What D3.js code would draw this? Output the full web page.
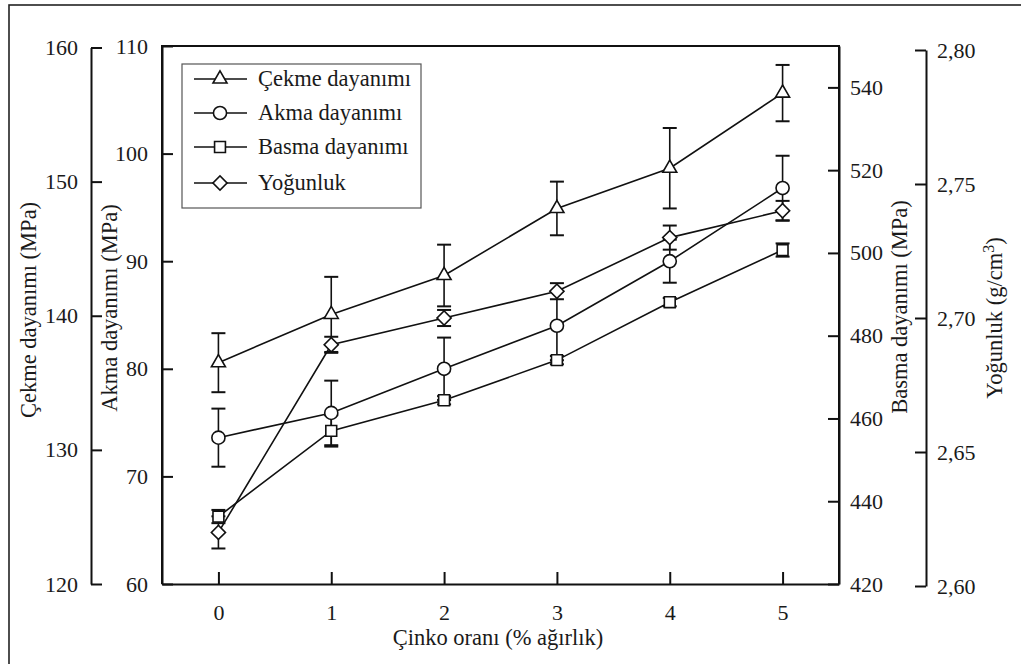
<!DOCTYPE html>
<html>
<head>
<meta charset="utf-8">
<script src="https://cdn.jsdelivr.net/npm/d3@7"></script>
<style>
  html, body { margin: 0; padding: 0; background: #fff; }
  svg { display: block; }
  text { font-family: "Liberation Serif", "Times New Roman", serif; fill: #1a1a1a; }
</style>
</head>
<body>
<script>
// zinc content (% weight)
const zinc = [0, 1, 2, 3, 4, 5];

const cekme = [136.5, 140.1, 143.0, 148.0, 151.0, 156.6];
const cekmeErr = [2.2, 2.8, 2.3, 2.0, 3.0, 2.1];

const akma = [73.6, 75.9, 80.0, 84.0, 90.0, 96.8];
const akmaErr = [2.7, 3.0, 2.9, 3.2, 2.0, 3.0];

const basma = [436.3, 457.0, 464.4, 474.1, 488.1, 500.7];
const basmaErr = [1.6, 3.8, 1.0, 1.0, 1.0, 1.6];

const yogunluk = [2.620, 2.690, 2.700, 2.710, 2.730, 2.740];
const yogunlukErr = [0.006, 0.003, 0.003, 0.003, 0.0045, 0.0037];

const legendNames = ["Çekme dayanımı", "Akma dayanımı", "Basma dayanımı", "Yoğunluk"];

const width = 1021, height = 664;
const plot = { left: 162, right: 839, top: 46, bottom: 584 };
const fontSize = 22;
const serif = '"Liberation Serif", "Times New Roman", serif';

const svg = d3.select("body").append("svg")
    .attr("width", width)
    .attr("height", height)
    .attr("font-family", serif);

// outer border (cut off at right / bottom like the scan)
svg.append("rect")
    .attr("x", 9).attr("y", 5)
    .attr("width", 1030).attr("height", 680)
    .attr("fill", "none")
    .attr("stroke", "#222")
    .attr("stroke-width", 1.6);

const x = d3.scaleLinear().domain([-0.5, 5.5]).range([plot.left, plot.right]);
const yCekme = d3.scaleLinear().domain([120, 160]).range([plot.bottom, 47.5]);
const yAkma = d3.scaleLinear().domain([60, 110]).range([plot.bottom, plot.top]);
const yBasma = d3.scaleLinear().domain([420, 550]).range([plot.bottom, plot.top]);
const yYog = d3.scaleLinear().domain([2.60, 2.80]).range([586, 50]);

const styleAxis = (g) => {
    g.attr("font-family", serif).attr("font-size", fontSize);
    g.selectAll("path.domain").attr("stroke", "#111").attr("stroke-width", 2);
    g.selectAll(".tick line").attr("stroke", "#111").attr("stroke-width", 2);
    g.selectAll(".tick text")
        .style("font-family", serif)
        .style("font-size", fontSize + "px")
        .attr("fill", "#1a1a1a");
};

// frame
svg.append("path")
    .attr("d", `M${plot.left},${plot.bottom}V${plot.top}H${plot.right}V${plot.bottom}`)
    .attr("fill", "none")
    .attr("stroke", "#111")
    .attr("stroke-width", 2);

// x axis
svg.append("g")
    .attr("transform", `translate(0,${plot.bottom})`)
    .call(d3.axisBottom(x).tickValues(zinc).tickFormat(d3.format("d"))
        .tickSizeInner(-12).tickSizeOuter(0).tickPadding(20))
    .call(styleAxis);

// Çekme axis (outer left)
svg.append("g")
    .attr("transform", "translate(91,0)")
    .call(d3.axisLeft(yCekme).tickValues([120, 130, 140, 150, 160])
        .tickSizeInner(-11).tickSizeOuter(0).tickPadding(13))
    .call(styleAxis);

// Akma axis (on frame)
svg.append("g")
    .attr("transform", `translate(${plot.left},0)`)
    .call(d3.axisLeft(yAkma).tickValues([60, 70, 80, 90, 100, 110])
        .tickSizeInner(-11).tickSizeOuter(0).tickPadding(14))
    .call(styleAxis);

// Basma axis (on frame, right)
svg.append("g")
    .attr("transform", `translate(${plot.right},0)`)
    .call(d3.axisRight(yBasma).tickValues([420, 440, 460, 480, 500, 520, 540])
        .tickSizeInner(-11).tickSizeOuter(0).tickPadding(11))
    .call(styleAxis);

// Yoğunluk axis (outer right)
svg.append("g")
    .attr("transform", "translate(926,0)")
    .call(d3.axisRight(yYog).tickValues([2.60, 2.65, 2.70, 2.75, 2.80])
        .tickFormat(d => d3.format(".2f")(d).replace(".", ","))
        .tickSizeInner(-11).tickSizeOuter(0).tickPadding(11))
    .call(styleAxis);

// axis titles
const title = (tx, ty, rot, txt) => svg.append("text")
    .attr("transform", `translate(${tx},${ty}) rotate(${rot})`)
    .attr("text-anchor", "middle")
    .style("font-family", serif)
    .style("font-size", "22.5px")
    .text(txt);

title(498, 645, 0, "Çinko oranı (% ağırlık)");
title(36, 310, -90, "Çekme dayanımı (MPa)");
title(117, 308, -90, "Akma dayanımı (MPa)");
title(907, 307, -90, "Basma dayanımı (MPa)");
const yt = title(1002, 318, -90, "Yoğunluk (g/cm");
yt.append("tspan").attr("baseline-shift", "super").style("font-size", "16px").text("3");
yt.append("tspan").text(")");

// marker shapes
const markers = [
    d3.symbol().type(d3.symbolTriangle).size(85)(),
    d3.symbol().type(d3.symbolCircle).size(135)(),
    d3.symbol().type(d3.symbolSquare).size(118)(),
    d3.symbol().type(d3.symbolSquare).size(100)()
];
const markerRot = [0, 0, 0, 45];

const series = [
    { vals: cekme, err: cekmeErr, y: yCekme },
    { vals: akma, err: akmaErr, y: yAkma },
    { vals: basma, err: basmaErr, y: yBasma },
    { vals: yogunluk, err: yogunlukErr, y: yYog }
];

const capW = 7;
const line = (ys) => d3.line().x((d, i) => x(zinc[i])).y(d => ys(d));

// lines first
series.forEach((s) => {
    svg.append("path")
        .datum(s.vals)
        .attr("d", line(s.y))
        .attr("fill", "none")
        .attr("stroke", "#111")
        .attr("stroke-width", 1.6);
});

// error bars
series.forEach((s) => {
    const eb = svg.append("g").selectAll("g")
        .data(s.vals)
        .enter()
        .append("g");
    eb.append("line")
        .attr("x1", (d, i) => x(zinc[i])).attr("x2", (d, i) => x(zinc[i]))
        .attr("y1", (d, i) => s.y(d + s.err[i])).attr("y2", (d, i) => s.y(d - s.err[i]))
        .attr("stroke", "#111").attr("stroke-width", 1.6);
    [1, -1].forEach(sign => {
        eb.append("line")
            .attr("x1", (d, i) => x(zinc[i]) - capW).attr("x2", (d, i) => x(zinc[i]) + capW)
            .attr("y1", (d, i) => s.y(d + sign * s.err[i])).attr("y2", (d, i) => s.y(d + sign * s.err[i]))
            .attr("stroke", "#111").attr("stroke-width", 2);
    });
});

// markers
series.forEach((s, k) => {
    svg.append("g").selectAll("path")
        .data(s.vals)
        .enter()
        .append("path")
        .attr("d", markers[k])
        .attr("transform", (d, i) => `translate(${x(zinc[i])},${s.y(d)}) rotate(${markerRot[k]})`)
        .attr("fill", "#fff")
        .attr("stroke", "#111")
        .attr("stroke-width", 1.6);
});

// legend
const legend = svg.append("g").attr("id", "legend");
legend.append("rect")
    .attr("x", 182).attr("y", 64)
    .attr("width", 239).attr("height", 144)
    .attr("fill", "#fff")
    .attr("stroke", "#555")
    .attr("stroke-width", 1.2);

const legendItem = legend.selectAll("g.item")
    .data(legendNames)
    .enter()
    .append("g")
    .attr("class", "item")
    .attr("transform", (d, i) => `translate(194,${[79, 113, 147, 183][i]})`);

legendItem.append("line")
    .attr("x1", 0).attr("x2", 53)
    .attr("stroke", "#111").attr("stroke-width", 1.6);
legendItem.append("path")
    .attr("d", (d, i) => markers[i])
    .attr("transform", (d, i) => `translate(26,0) rotate(${markerRot[i]})`)
    .attr("fill", "#fff")
    .attr("stroke", "#111")
    .attr("stroke-width", 1.6);
legendItem.append("text")
    .attr("x", 64)
    .attr("dy", "0.33em")
    .style("font-family", serif)
    .style("font-size", "22.5px")
    .text(d => d);
</script>
</body>
</html>
